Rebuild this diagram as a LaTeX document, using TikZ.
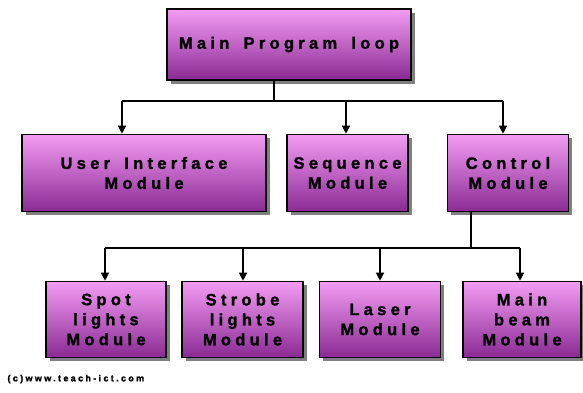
\documentclass[tikz,border=0pt]{standalone}
\usepackage{fontspec}
\setmainfont{Liberation Sans}[LetterSpace=26, WordSpace=1.6, BoldFeatures={FakeBold=1.5}]
\usetikzlibrary{shadows}
\usetikzlibrary{arrows.meta}
\usetikzlibrary{positioning}

\definecolor{boxtop}{HTML}{F39CF3}
\definecolor{boxbot}{HTML}{8A2A94}

\begin{document}
\begin{tikzpicture}[
    x=1pt, y=-1pt,
    module/.style={draw=black, line width=1.6pt, top color=boxtop, bottom color=boxbot,
        drop shadow={shadow xshift=3.5pt, shadow yshift=-3.5pt, fill=black, opacity=0.5},
        font=\bfseries\fontsize{16.5}{20}\selectfont, align=center, inner sep=0pt}, % Style for the module boxes
    link/.style={line width=1.2pt}, % Style for the connector lines
    arrow/.style={link, -{Triangle[width=8pt,length=8pt]}} % Style for the arrows
]

\useasboundingbox (0,0) rectangle (583,392);

% Top box
\node[module, minimum width=244pt, minimum height=71pt] (main) at (289,44.5) {Main Program loop};

% Second row
\node[module, minimum width=244pt, minimum height=77pt] (ui) at (144,173) {User Interface\\Module};
\node[module, minimum width=121pt, minimum height=77pt] (seq) at (347.5,173) {Sequence\\Module};
\node[module, minimum width=121pt, minimum height=77pt] (ctrl) at (508,173) {Control\\Module};

% Third row
\node[module, minimum width=120pt, minimum height=76pt] (spot) at (106,319.5) {Spot\\lights\\Module};
\node[module, minimum width=121pt, minimum height=76pt] (strobe) at (242.5,319.5) {Strobe\\lights\\Module};
\node[module, minimum width=121pt, minimum height=76pt] (laser) at (380,319.5) {Laser\\Module};
\node[module, minimum width=118pt, minimum height=76pt] (beam) at (522,319.5) {Main\\beam\\Module};

% --- Connectors, first level ---
\coordinate (stem1) at (274,101);
\coordinate (ua) at (122,101);
\coordinate (sa) at (346,101);
\coordinate (ca) at (503,101);

\draw[link] (stem1 |- main.south) -- (stem1);
\draw[link] (ua) -- (ca);
\draw[arrow] (ua) -- (ua |- ui.north);
\draw[arrow] (sa) -- (sa |- seq.north);
\draw[arrow] (ca) -- (ca |- ctrl.north);

% --- Connectors, second level ---
\coordinate (stem2) at (471,248);
\coordinate (pa) at (105,248);
\coordinate (ta) at (243,248);
\coordinate (la) at (380,248);
\coordinate (ba) at (520,248);

\draw[link] (stem2 |- ctrl.south) -- (stem2);
\draw[link] (pa) -- (ba);
\draw[arrow] (pa) -- (pa |- spot.north);
\draw[arrow] (ta) -- (ta |- strobe.north);
\draw[arrow] (la) -- (la |- laser.north);
\draw[arrow] (ba) -- (ba |- beam.north);

% Copyright line
\node[font=\bfseries\fontsize{9}{11}\selectfont, anchor=west] (copy) at (4,379) {(c)www.teach-ict.com};

\end{tikzpicture}
\end{document}
